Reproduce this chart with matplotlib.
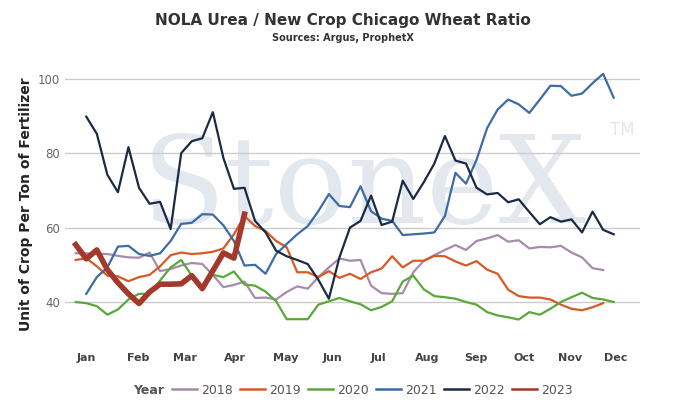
import numpy as np
import matplotlib.pyplot as plt
from matplotlib.offsetbox import HPacker

# weekly ratio values, week index 0..51 (None = no data)
data = {
    "2018": [53.1, 53.1, 52.9, 52.9, 52.4, 52.0, 51.9, 53.3, 48.3, 48.9, 49.8, 50.5, 50.2, 47.3, 44.0, 44.6, 45.5,
             41.1, 41.2, 40.7, 42.7, 44.2, 43.6, 46.7, 49.3, 51.7, 51.1, 51.3, 44.4, 42.4, 42.2, 42.4, 48.0, 51.1,
             52.6, 54.0, 55.3, 54.0, 56.4, 57.1, 58.0, 56.2, 56.6, 54.4, 54.8, 54.7, 55.1, 53.3, 52.0, 49.1, 48.6, None],
    "2019": [51.3, 51.8, 49.6, 47.1, 46.9, 45.6, 46.7, 47.3, 49.6, 52.6, 53.3, 52.9, 53.1, 53.5, 54.4, 58.2, 63.1,
             60.4, 59.1, 56.4, 54.7, 48.0, 48.0, 46.7, 48.3, 46.5, 47.6, 46.2, 48.0, 49.0, 52.3, 49.3, 51.1, 51.1,
             52.4, 52.3, 50.9, 49.8, 51.0, 48.7, 47.6, 43.3, 41.6, 41.2, 41.2, 40.7, 39.3, 38.2, 37.8, 38.6, 39.7, None],
    "2020": [40.0, 39.7, 38.9, 36.6, 38.0, 40.7, 42.2, 42.2, 45.8, 49.3, 51.3, 47.1, 43.7, 47.3, 46.7, 48.2, 44.7,
             44.4, 42.8, 40.2, 35.4, 35.4, 35.4, 39.3, 40.2, 41.1, 40.2, 39.4, 37.8, 38.7, 40.2, 45.5, 47.1, 43.4,
             41.6, 41.3, 40.9, 40.0, 39.3, 37.3, 36.4, 35.9, 35.3, 37.3, 36.6, 38.2, 40.0, 41.3, 42.5, 41.1, 40.7, 40.0],
    "2021": [None, 42.2, 46.7, 49.3, 54.9, 55.1, 52.9, 52.4, 53.1, 56.4, 61.0, 61.3, 63.6, 63.5, 60.6, 56.4, 49.8,
             50.0, 47.6, 52.9, 55.6, 58.2, 60.4, 64.4, 69.0, 65.8, 65.5, 71.1, 64.4, 62.4, 61.8, 58.0, 58.2, 58.4,
             58.7, 63.1, 74.7, 71.8, 78.2, 86.7, 91.7, 94.4, 93.1, 90.8, 94.4, 98.1, 98.0, 95.4, 96.0, 98.8, 101.3, 94.9],
    "2022": [None, 89.8, 85.2, 74.2, 69.5, 81.6, 70.7, 66.4, 66.9, 59.6, 80.0, 83.2, 84.0, 91.0, 78.7, 70.4, 70.7,
             61.8, 58.7, 53.8, 52.3, 51.3, 50.2, 46.0, 40.9, 52.0, 60.0, 61.8, 68.6, 60.7, 61.6, 72.6, 67.7, 72.2,
             77.2, 84.6, 78.0, 77.2, 70.7, 68.9, 69.3, 66.8, 67.6, 64.2, 60.9, 62.8, 61.6, 62.2, 58.7, 64.3, 59.4, 58.2],
    "2023": [55.4, 51.6, 54.0, 48.7, 45.2, 42.2, 39.6, 42.7, 44.8, 44.8, 44.9, 47.1, 43.6, 48.4, 53.2, 51.8, 63.6],
}
colors = {"2018": "#a78bab", "2019": "#d65a26", "2020": "#5aa83a",
          "2021": "#3b6ca3", "2022": "#1b2a44", "2023": "#a3392b"}

fig = plt.figure(figsize=(6.86, 4.15), dpi=100)
ax = fig.add_axes([0.095, 0.169, 0.838, 0.68])

ax.text(0.52, 0.55, "StoneX", transform=ax.transAxes, ha="center", va="center",
        fontsize=88, family="DejaVu Serif", color="#e3e7ee", zorder=0)
ax.text(0.97, 0.76, "TM", transform=ax.transAxes, ha="center", va="center",
        fontsize=12, color="#e3e7ee", zorder=0)

for year, vals in data.items():
    y = np.array([np.nan if v is None else v for v in vals])
    ax.plot(np.arange(len(y)), y, color=colors[year], lw=4 if year == "2023" else 1.6,
            label=year, zorder=3 if year == "2023" else 2)

ax.set_ylim(28.5, 104.3)
ax.set_xlim(-1, 53.5)
ax.set_yticks([40, 60, 80, 100])
ax.yaxis.grid(True, color="#cccccc", lw=1)
ax.set_axisbelow(True)
months = ["Jan", "Feb", "Mar", "Apr", "May", "Jun", "Jul", "Aug", "Sep", "Oct", "Nov", "Dec"]
ax.set_xticks([1.0, 5.9, 10.4, 15.1, 19.9, 24.3, 28.7, 33.3, 37.9, 42.5, 46.9, 51.2])
ax.set_xticklabels(months, fontsize=8, fontweight="bold", color="#444444")
ax.tick_params(axis="x", length=0, pad=6)
ax.tick_params(axis="y", length=0, labelsize=8.5, colors="#666666")
for s in ax.spines.values():
    s.set_visible(False)
ax.set_ylabel("Unit of Crop Per Ton of Fertilizer", fontsize=10, fontweight="bold", color="#222222")

fig.text(0.5, 0.95, "NOLA Urea / New Crop Chicago Wheat Ratio", ha="center", va="center",
         fontsize=11, fontweight="bold", color="#333333")
fig.text(0.5, 0.908, "Sources: Argus, ProphetX", ha="center", va="center",
         fontsize=7, fontweight="bold", color="#333333")

leg = ax.legend(loc="center", bbox_to_anchor=(0.5, -0.16), ncol=6, frameon=False,
                fontsize=9, handlelength=2, handletextpad=0.3, columnspacing=0.6,
                title="Year")
for line in leg.get_lines():
    line.set_linewidth(1.8)
for t in leg.get_texts():
    t.set_color("#555555")
leg.get_title().set_fontweight("bold")
leg.get_title().set_color("#555555")
leg.get_title().set_fontsize(9)
# put "Year" in line with the entries
box = leg._legend_box
box._children = [HPacker(children=[box._children[0], box._children[1]], pad=0, sep=6, align="center")]

fig.savefig("out.png")
